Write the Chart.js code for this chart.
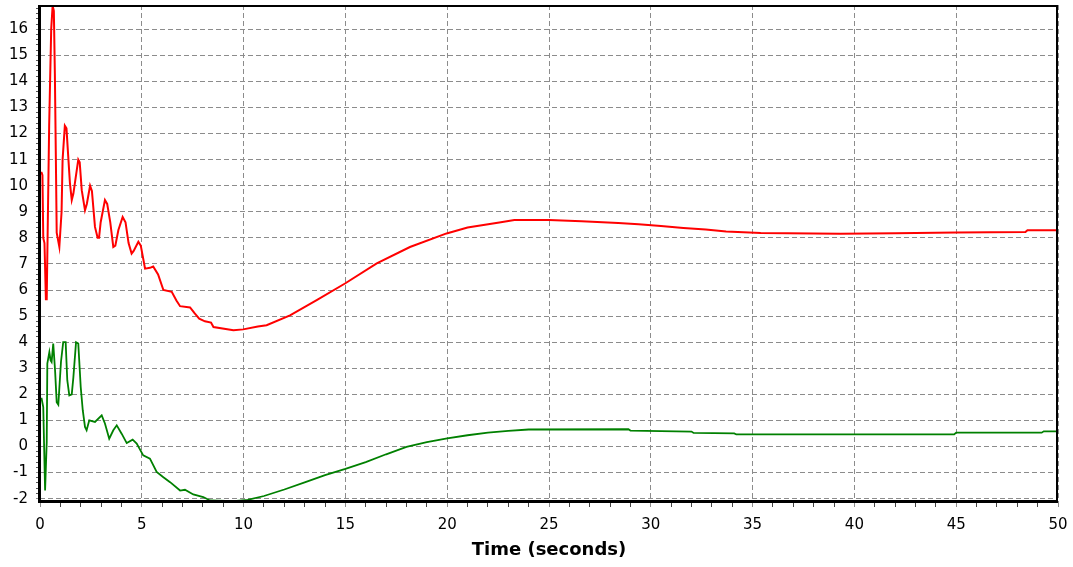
<!DOCTYPE html>
<html>
<head>
<meta charset="utf-8">
<script src="https://cdn.jsdelivr.net/npm/chart.js@4"></script>
<style>
  html, body { margin: 0; padding: 0; background: #fff; }
  canvas { display: block; }
</style>
</head>
<body>
<canvas id="myChart" width="1073" height="567"></canvas>
<script>
// red trace (time in seconds, value)
const redTime  = [0, 0.08, 0.12, 0.16, 0.22, 0.29, 0.33, 0.45, 0.55, 0.62, 0.68, 0.73, 0.78, 0.82, 0.95,
  1.06, 1.11, 1.22, 1.3, 1.38, 1.47, 1.56, 1.64, 1.88, 1.95, 2.05, 2.21, 2.3, 2.46, 2.55, 2.7, 2.83, 2.9,
  2.98, 3.19, 3.3, 3.45, 3.6, 3.7, 3.85, 4.06, 4.2, 4.35, 4.5, 4.6, 4.83, 4.95, 5.16, 5.4, 5.56, 5.8,
  6.06, 6.47, 6.7, 6.88, 7.37, 7.6, 7.82, 8.1, 8.4, 8.52, 9.5, 9.98, 10.7, 11.13, 12.28, 13.59, 14.98,
  16.54, 18.17, 19.97, 21, 22.56, 23.3, 25, 26.6, 28.4, 29.4, 30.5, 31.6, 32.7, 33.7, 35.4, 39.3, 42,
  45, 48.4, 48.5, 50];
const redValue = [10.5, 10.5, 10.4, 8.0, 7.8, 5.65, 5.65, 12.3, 16.0, 16.9, 16.7, 14.3, 11.0, 8.2, 7.65,
  9.0, 11.0, 12.3, 12.2, 11.2, 10.1, 9.45, 9.7, 11.0, 10.9, 9.83, 9.06, 9.3, 10.0, 9.8, 8.42, 8.0, 8.0,
  8.6, 9.45, 9.3, 8.6, 7.65, 7.7, 8.3, 8.8, 8.6, 7.8, 7.4, 7.5, 7.85, 7.7, 6.82, 6.85, 6.9, 6.6,
  6.0, 5.93, 5.6, 5.38, 5.33, 5.1, 4.9, 4.8, 4.75, 4.58, 4.46, 4.49, 4.6, 4.65, 5.03, 5.61, 6.25,
  7.02, 7.65, 8.17, 8.4, 8.59, 8.68, 8.68, 8.64, 8.57, 8.52, 8.45, 8.38, 8.32, 8.24, 8.19, 8.16, 8.18,
  8.21, 8.22, 8.29, 8.29];

// green trace (time in seconds, value)
const greenTime  = [0, 0.08, 0.16, 0.25, 0.33, 0.36, 0.46, 0.52, 0.57, 0.65, 0.74, 0.82, 0.9, 1.03, 1.14,
  1.26, 1.34, 1.44, 1.56, 1.64, 1.77, 1.88, 2.0, 2.1, 2.21, 2.29, 2.42, 2.7, 3.03, 3.19, 3.4, 3.6, 3.77,
  4.01, 4.26, 4.55, 4.75, 5.07, 5.4, 5.73, 6.06, 6.39, 6.88, 7.12, 7.53, 8.02, 8.35, 9.5, 10.2, 11, 12,
  13, 14, 15, 16, 17, 18, 19, 20, 21, 22, 23, 24, 28.9, 29, 32, 32.1, 34.1, 34.2, 44.9, 45, 49.2,
  49.3, 50];
const greenValue = [1.83, 1.83, 1.51, -1.69, 0.16, 3.18, 3.62, 3.3, 3.24, 3.95, 2.92, 1.7, 1.6, 3.24, 4.0,
  4.0, 2.54, 1.96, 2.0, 2.66, 4.0, 3.95, 2.28, 1.39, 0.75, 0.62, 1.0, 0.94, 1.19, 0.88, 0.3, 0.62, 0.81,
  0.49, 0.13, 0.26, 0.11, -0.34, -0.47, -0.98, -1.18, -1.37, -1.69, -1.66, -1.84, -1.94, -2.07, -2.1, -2.05, -1.9, -1.65,
  -1.38, -1.1, -0.86, -0.6, -0.3, -0.02, 0.17, 0.31, 0.43, 0.53, 0.6, 0.65, 0.66, 0.61, 0.57, 0.52, 0.5, 0.46, 0.46, 0.53, 0.53,
  0.58, 0.58];

// axis labels
const xTickLabels = [0, 5, 10, 15, 20, 25, 30, 35, 40, 45, 50];
const yTickLabels = [-2, -1, 0, 1, 2, 3, 4, 5, 6, 7, 8, 9, 10, 11, 12, 13, 14, 15, 16];
const xTitle = 'Time (seconds)';

// minor tick positions (every 1 s on x, every 0.2 on y)
const xTicks = [];
for (let i = 0; i <= 50; i++) xTicks.push(i);
const yTicks = [];
for (let i = -10; i <= 84; i++) yTicks.push(Math.round(i * 20) / 100);

const isXMajor = v => xTickLabels.includes(Math.round(v)) && Math.abs(v - Math.round(v)) < 1e-6;
const isYMajor = v => Math.abs(v - Math.round(v)) < 1e-6;

const toPoints = (t, v) => t.map((x, i) => ({x: x, y: v[i]}));

const frame = {
  id: 'frame',
  afterDraw(chart) {
    const {ctx, chartArea: a} = chart;
    ctx.save();
    ctx.strokeStyle = '#000';
    ctx.lineWidth = 2;
    ctx.beginPath();
    ctx.moveTo(a.left, a.top + 1);
    ctx.lineTo(a.right - 1, a.top + 1);
    ctx.lineTo(a.right - 1, a.bottom);
    ctx.stroke();
    ctx.lineWidth = 3;
    ctx.beginPath();
    ctx.moveTo(a.left - 0.5, a.top);
    ctx.lineTo(a.left - 0.5, a.bottom - 0.5);
    ctx.lineTo(a.right, a.bottom - 0.5);
    ctx.stroke();
    ctx.restore();
  }
};

const ctx = document.getElementById('myChart');

new Chart(ctx, {
  type: 'line',
  data: {
    datasets: [
      {
        data: toPoints(redTime, redValue),
        borderColor: '#ff0000',
        borderWidth: 2,
        pointRadius: 0,
        tension: 0,
      },
      {
        data: toPoints(greenTime, greenValue),
        borderColor: '#008000',
        borderWidth: 1.8,
        pointRadius: 0,
        tension: 0,
      },
    ],
  },
  options: {
    responsive: false,
    animation: false,
    devicePixelRatio: 1,
    layout: { padding: { top: 5, right: 15, left: 0, bottom: 0 } },
    plugins: { legend: { display: false }, tooltip: { enabled: false } },
    scales: {
      x: {
        type: 'linear',
        min: 0,
        max: 50,
        afterBuildTicks: axis => { axis.ticks = xTicks.map(v => ({value: v})); },
        afterFit: scale => { scale.height = 65; scale.paddingLeft = 0; scale.paddingRight = 0; },
        ticks: {
          autoSkip: false,
          maxRotation: 0,
          padding: 9,
          color: '#000',
          font: { family: 'DejaVu Sans', size: 15 },
          callback: v => isXMajor(v) && v % 5 === 0 ? String(v) : '',
        },
        grid: {
          color: c => (c.tick && c.tick.value % 5 === 0) ? '#8c8c8c' : 'rgba(0,0,0,0)',
          lineWidth: 1,
          tickLength: 5,
          tickColor: c => (c.tick && c.tick.value % 5 === 0) ? '#8c8c8c' : '#444',
        },
        border: { display: false, dash: [5, 3] },
        title: {
          display: true,
          text: xTitle,
          color: '#000',
          font: { family: 'DejaVu Sans', size: 18, weight: 'bold' },
          padding: { top: 0, bottom: 6 },
        },
      },
      y: {
        type: 'linear',
        min: -2.13,
        max: 16.93,
        afterBuildTicks: axis => { axis.ticks = yTicks.map(v => ({value: v})); },
        afterFit: scale => { scale.width = 40; scale.paddingTop = 0; scale.paddingBottom = 0; },
        ticks: {
          autoSkip: false,
          padding: 8,
          color: '#000',
          font: { family: 'DejaVu Sans', size: 15 },
          callback: v => isYMajor(v) && yTickLabels.includes(Math.round(v)) ? String(Math.round(v)) : '',
        },
        grid: {
          color: c => (c.tick && isYMajor(c.tick.value)) ? '#8c8c8c' : 'rgba(0,0,0,0)',
          lineWidth: 1,
          tickLength: 4,
          tickColor: c => (c.tick && isYMajor(c.tick.value)) ? '#8c8c8c' : '#555',
        },
        border: { display: false, dash: [5, 3] },
      },
    },
  },
  plugins: [frame],
});
</script>
</body>
</html>
